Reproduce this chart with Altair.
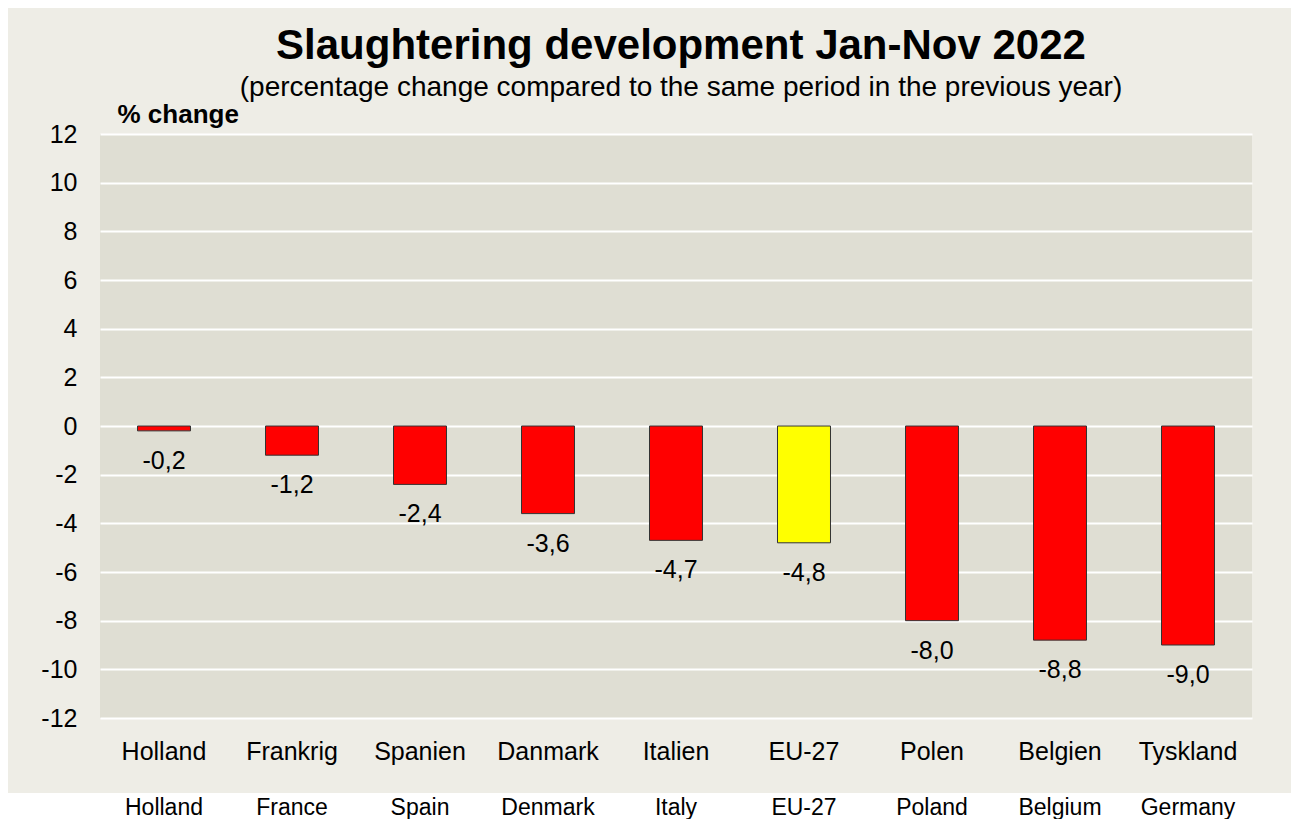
import altair as alt
import pandas as pd

countries_dk = ["Holland", "Frankrig", "Spanien", "Danmark", "Italien", "EU-27", "Polen", "Belgien", "Tyskland"]
countries_en = ["Holland", "France", "Spain", "Denmark", "Italy", "EU-27", "Poland", "Belgium", "Germany"]
values = [-0.2, -1.2, -2.4, -3.6, -4.7, -4.8, -8.0, -8.8, -9.0]
y_ticks = [-12, -10, -8, -6, -4, -2, 0, 2, 4, 6, 8, 10, 12]

df = pd.DataFrame({
    "dk": countries_dk,
    "en": countries_en,
    "v": values,
    "label": [f"{v:.1f}".replace(".", ",") for v in values],
})

FONT = "Liberation Sans"

x_enc = alt.X(
    "dk:N", sort=countries_dk, title=None,
    scale=alt.Scale(paddingInner=0.586, paddingOuter=0.293),
    axis=alt.Axis(labelAngle=0, labelFontSize=25, labelPadding=21, ticks=False, tickSize=0,
                  domain=False, grid=False, labelColor="black", labelFont=FONT),
)
y_enc = alt.Y(
    "v:Q",
    scale=alt.Scale(domain=[-12, 12], nice=False),
    axis=alt.Axis(values=y_ticks, labelExpr="'' + datum.value", labelFontSize=25, labelPadding=23,
                  ticks=False, tickSize=0, domain=False, grid=True, gridColor="white", gridWidth=2,
                  labelColor="black", labelFont=FONT,
                  title="% change", titleAngle=0, titleX=17, titleY=-12, titleAlign="left",
                  titleBaseline="alphabetic", titleFontSize=26, titleFontWeight="bold",
                  titleColor="black", titleFont=FONT),
)

white_band = alt.Chart(pd.DataFrame({"a": [0]})).mark_rect(color="white").encode(
    x=alt.value(-92), x2=alt.value(1191), y=alt.value(659), y2=alt.value(700)
)

bars = alt.Chart(df).mark_bar(stroke="#333333", strokeWidth=1).encode(
    x=x_enc, y=y_enc,
    color=alt.condition("datum.dk == 'EU-27'", alt.value("#FFFF00"), alt.value("#FF0000")),
)

labels = alt.Chart(df).mark_text(baseline="top", dy=18, fontSize=25, color="black", font=FONT).encode(
    x=alt.X("dk:N", sort=countries_dk), y=alt.Y("v:Q"), text="label:N"
)

english = alt.Chart(df).mark_text(baseline="alphabetic", fontSize=23, color="black", font=FONT).encode(
    x=alt.X("dk:N", sort=countries_dk), y=alt.value(681), text="en:N"
)

chart = alt.layer(white_band, bars, labels, english).properties(
    width=1152, height=584,
    autosize=alt.AutoSizeParams(type="none"),
    padding={"left": 92, "top": 126, "right": 39, "bottom": 101},
    title=alt.Title(
        text="Slaughtering development Jan-Nov 2022",
        subtitle="(percentage change compared to the same period in the previous year)",
        fontSize=42, fontWeight="bold", font=FONT, color="black",
        subtitleFontSize=28, subtitleFont=FONT, subtitleColor="black",
        anchor="middle", offset=0, subtitlePadding=6, dx=5, dy=2,
    ),
).configure(background="#EEEDE6", font=FONT).configure_view(fill="#DFDED3", stroke=None)

chart.save("out.html", embed_options={"renderer": "svg", "actions": False})
